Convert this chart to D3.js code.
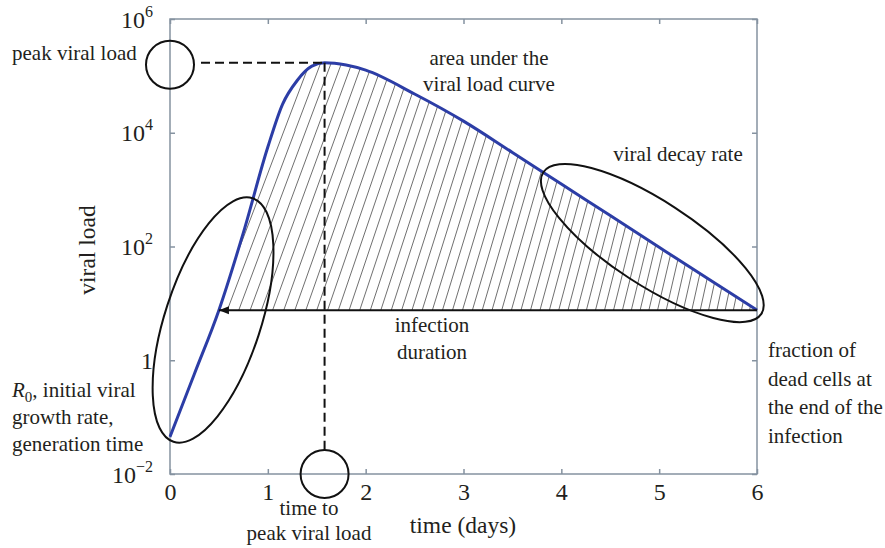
<!DOCTYPE html>
<html>
<head>
<meta charset="utf-8">
<script src="https://cdn.jsdelivr.net/npm/d3@7/dist/d3.min.js"></script>
<style>
  body { margin: 0; background: #fff; }
  svg { display: block; font-family: "Liberation Serif", "Times New Roman", serif; }
  .axis path, .axis line { stroke: #8592a0; stroke-width: 1.5; }
  .axis text { fill: #231f20; }
  .note { fill: #231f20; font-size: 21px; }
</style>
</head>
<body>
<svg id="chart" width="885" height="548"></svg>
<script>
// viral load curve (days, copies)
var days = [0, 0.25, 0.5, 0.75, 1.0, 1.15, 1.3, 1.45, 1.58, 1.8, 2.0, 2.5, 3.0, 3.5, 4.0, 4.5, 5.0, 5.5, 6.0];
var load = [0.045, 0.58, 7.6, 175, 5600, 31600, 83000, 148000, 170000, 155000, 126000, 48000, 16000, 4500, 1250, 350, 97, 27, 7.6];

var xTicks = [0, 1, 2, 3, 4, 5, 6];
var yTicks = [1e-2, 1, 1e2, 1e4, 1e6];
var yTickExp = ['\u22122', '', '2', '4', '6'];

var peakDay = 1.58, peakLoad = 170000;
var limit = 7.6, limitStart = 0.5, limitEnd = 6;

var serif = '"Liberation Serif", "Times New Roman", serif';
var svg = d3.select('#chart');
var pLeft = 170, pRight = 757, pTop = 19, pBottom = 474;

var x = d3.scaleLinear().domain([0, 6]).range([pLeft, pRight]);
var y = d3.scaleLog().domain([1e-2, 1e6]).range([pBottom, pTop]);

var pts = days.map(function (d, i) { return [d, load[i]]; });

/* box + inward ticks */
svg.append('rect')
   .attr('x', pLeft).attr('y', pTop)
   .attr('width', pRight - pLeft).attr('height', pBottom - pTop)
   .attr('fill', 'none').attr('stroke', '#8592a0').attr('stroke-width', 1.5);

var gx = svg.append('g').attr('class', 'axis')
   .attr('transform', 'translate(0,' + pBottom + ')')
   .call(d3.axisBottom(x).tickValues(xTicks).tickSize(-5).tickFormat(d3.format('d')))
   .attr('font-family', serif).attr('font-size', 24);
gx.select('.domain').remove();
gx.selectAll('text').attr('y', 26).attr('dy', 0);

svg.append('g').attr('class', 'axis')
   .attr('transform', 'translate(0,' + pTop + ')')
   .call(d3.axisTop(x).tickValues(xTicks).tickSize(-5).tickFormat(''))
   .select('.domain').remove();

var gy = svg.append('g').attr('class', 'axis')
   .attr('transform', 'translate(' + pLeft + ',0)')
   .call(d3.axisLeft(y).tickValues(yTicks).tickSize(-5).tickFormat(''))
   .attr('font-family', serif).attr('font-size', 24);
gy.select('.domain').remove();
gy.selectAll('.tick text').remove();
gy.selectAll('.tick').each(function (d, i) {
    var t = d3.select(this).append('text')
        .attr('x', -17).attr('y', 8)
        .attr('text-anchor', 'end');
    if (d == 1) {
        t.text('1');
    } else {
        t.append('tspan').text('10');
        t.append('tspan').attr('dy', -11).attr('font-size', 16).text(yTickExp[i]);
    }
});

svg.append('g').attr('class', 'axis')
   .attr('transform', 'translate(' + pRight + ',0)')
   .call(d3.axisRight(y).tickValues(yTicks).tickSize(-5).tickFormat(''))
   .select('.domain').remove();

/* hatched area between curve and the detection limit */
var above = pts.filter(function (p) { return p[0] >= limitStart; });
var area = d3.area()
    .x(function (p) { return x(p[0]); })
    .y0(y(limit))
    .y1(function (p) { return y(p[1]); })
    .curve(d3.curveMonotoneX);

svg.append('clipPath').attr('id', 'auc')
   .append('path').attr('d', area(above));

var hatch = svg.append('g').attr('clip-path', 'url(#auc)');
var x0 = x(limitStart), x1 = x(limitEnd), yb = y(limit);
var b = x0 - 120;
while (b < x1 + 10) {
    var f = Math.max(0, (b - x0) / (x1 - x0));
    var k = 0.38 - 0.18 * f;
    hatch.append('line')
         .attr('x1', b).attr('y1', yb + 5)
         .attr('x2', b + k * 320).attr('y2', yb - 315)
         .attr('stroke', '#555').attr('stroke-width', 0.85);
    b += 11.5 - 3.5 * f;
}

/* the curve */
var line = d3.line()
    .x(function (p) { return x(p[0]); })
    .y(function (p) { return y(p[1]); })
    .curve(d3.curveMonotoneX);

svg.append('path')
   .attr('d', line(pts))
   .attr('fill', 'none')
   .attr('stroke', '#2c3da6')
   .attr('stroke-width', 3);

/* infection duration arrow */
svg.append('defs').append('marker')
   .attr('id', 'arrow')
   .attr('viewBox', '0 -5 10 10')
   .attr('refX', 10).attr('refY', 0)
   .attr('markerUnits', 'userSpaceOnUse')
   .attr('markerWidth', 11).attr('markerHeight', 10)
   .attr('orient', 'auto')
   .append('path').attr('d', 'M0,-4L10,0L0,4Z').attr('fill', '#111');

svg.append('line')
   .attr('x1', x(limitEnd)).attr('y1', y(limit))
   .attr('x2', x(limitStart)).attr('y2', y(limit))
   .attr('stroke', '#111').attr('stroke-width', 2)
   .attr('marker-end', 'url(#arrow)');

/* dashed guides to the peak */
svg.append('line')
   .attr('x1', x(0) + 31).attr('y1', y(peakLoad))
   .attr('x2', x(peakDay)).attr('y2', y(peakLoad))
   .attr('stroke', '#111').attr('stroke-width', 2).attr('stroke-dasharray', '9,5');
svg.append('line')
   .attr('x1', x(peakDay)).attr('y1', y(peakLoad))
   .attr('x2', x(peakDay)).attr('y2', y(1e-2) - 24)
   .attr('stroke', '#111').attr('stroke-width', 2).attr('stroke-dasharray', '9,5');

/* circles and ellipses */
var rings = svg.append('g').attr('fill', 'none').attr('stroke', '#111').attr('stroke-width', 2);
rings.append('circle').attr('cx', x(0)).attr('cy', y(peakLoad) + 2).attr('r', 24);
rings.append('circle').attr('cx', x(peakDay)).attr('cy', y(1e-2)).attr('r', 24);
rings.append('ellipse')
     .attr('rx', 128).attr('ry', 48)
     .attr('transform', 'translate(' + x(0.44) + ',' + y(5.1) + ') rotate(-72)');
rings.append('ellipse')
     .attr('rx', 130).attr('ry', 42)
     .attr('transform', 'translate(' + x(4.93) + ',' + y(115) + ') rotate(33)');

/* labels */
svg.append('text').attr('class', 'note')
   .attr('x', 463).attr('y', 533).attr('text-anchor', 'middle')
   .style('font-size', '23.5px').text('time (days)');
svg.append('text').attr('class', 'note')
   .attr('transform', 'translate(95,250) rotate(-90)')
   .attr('text-anchor', 'middle')
   .style('font-size', '23.5px').text('viral load');

function note(lines, px, py, anchor, gap) {
    var t = svg.append('text').attr('class', 'note')
               .attr('x', px).attr('y', py).attr('text-anchor', anchor);
    lines.forEach(function (s, i) {
        t.append('tspan').attr('x', px).attr('dy', i ? gap : 0).text(s);
    });
    return t;
}

note(['peak viral load'], 12, 60, 'start', 0);
note(['area under the', 'viral load curve'], 489, 65, 'middle', 26);
note(['viral decay rate'], 678, 161, 'middle', 0);
note(['infection', 'duration'], 432, 332, 'middle', 27);
note(['time to', 'peak viral load'], 309, 515, 'middle', 25);
note(['fraction of', 'dead cells at', 'the end of the', 'infection'], 768, 357, 'start', 28.5);

var r0 = svg.append('text').attr('class', 'note').attr('x', 12).attr('y', 397);
r0.append('tspan').style('font-style', 'italic').text('R');
r0.append('tspan').attr('dy', 5).style('font-size', '15px').text('0');
r0.append('tspan').attr('dy', -5).text(', initial viral');
note(['growth rate,', 'generation time'], 12, 424, 'start', 27);
</script>
</body>
</html>
